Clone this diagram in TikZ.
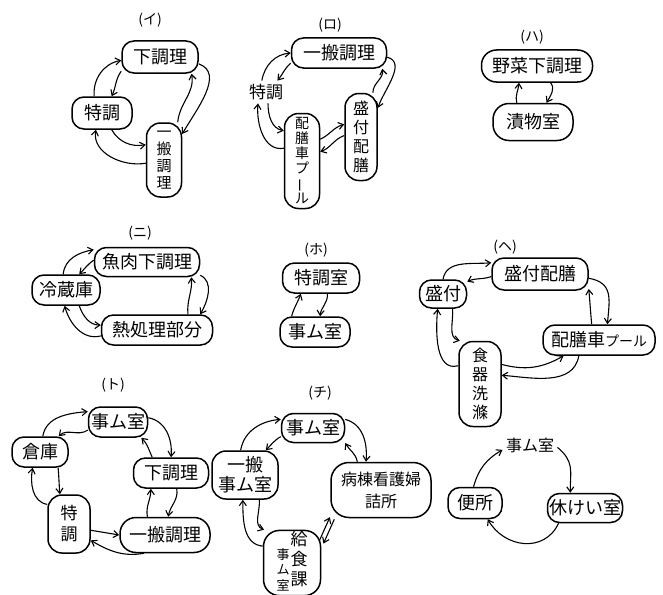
\documentclass[tikz,border=0pt]{standalone}
\usepackage{fontspec}
\setmainfont{Noto Sans CJK JP}
\usepackage{graphicx}
\usetikzlibrary{arrows.meta}
\newcommand{\tatebo}{\rotatebox[origin=c]{90}{ー}}

\begin{document}
\begin{tikzpicture}[x=1pt,y=1pt,
  room/.style={draw,line width=1.5pt,rounded corners=12pt,inner sep=1pt,
    align=center,font=\fontsize{18}{20}\selectfont},
  tate/.style={room,rounded corners=14pt},
  plain/.style={font=\fontsize{17}{19}\selectfont},
  tag/.style={font=\fontsize{14}{16}\selectfont},
  flow/.style={-{Straight Barb[length=5pt,width=7pt]},line width=1.1pt}]
  \useasboundingbox (0,0) rectangle (663,-594);

  \node[tag] (i-tag) at (150,-20) {(イ)};
  \node[room,minimum width=76pt,minimum height=32pt] (i-shita) at (160,-57) {下調理};
  \node[room,minimum width=60pt,minimum height=32pt] (i-toku) at (102,-113) {特調};
  \node[tate,minimum width=35pt,minimum height=74pt,font=\fontsize{15}{17}\selectfont] (i-ippan) at (164,-160) {一\\搬\\調\\理};
  \draw[flow] (i-toku.115) to[out=95,in=190] (i-shita.185);
  \draw[flow] (i-shita.200) to[out=235,in=65] (i-toku.60);
  \draw[flow] (i-shita.-10) to[out=-20,in=60] (i-ippan.55);
  \draw[flow] (i-ippan.70) to[out=85,in=-80] (i-shita.-28);
  \draw[flow] (i-toku.-60) to[out=-60,in=190] (i-ippan.140);
  \draw[flow] (i-ippan.190) to[out=190,in=-100] (i-toku.-110);

  \node[tag] (ro-tag) at (330,-25) {(ロ)};
  \node[room,minimum width=95pt,minimum height=30pt] (ro-ippan) at (339,-53) {一搬調理};
  \node[plain] (ro-toku) at (266,-92) {特調};
  \node[tate,minimum width=35pt,minimum height=95pt,font=\fontsize{14}{15}\selectfont] (ro-haizen) at (302,-161) {配\\膳\\車\\プ\\\tatebo\\ル};
  \node[tate,minimum width=32pt,minimum height=87pt,font=\fontsize{16}{19}\selectfont] (ro-mori) at (361,-137) {盛\\付\\配\\膳};
  \draw[flow] (ro-toku.110) to[out=80,in=185] (ro-ippan.west);
  \draw[flow] (ro-ippan.192) to[out=220,in=50] (ro-toku.45);
  \draw[flow] (ro-ippan.-5) to[out=-15,in=70] (ro-mori.60);
  \draw[flow] (ro-mori.75) to[out=90,in=-80] (ro-ippan.-20);
  \draw[flow] (ro-toku.-80) to[out=-90,in=170] (ro-haizen.121);
  \draw[flow] (ro-haizen.145) to[out=190,in=-95] (ro-toku.-125);
  \draw[flow] (ro-haizen.50) to[out=25,in=195] (ro-mori.143);
  \draw[flow] (ro-mori.175) to[out=200,in=20] (ro-haizen.27);

  \node[tag] (ha-tag) at (532,-37) {(ハ)};
  \node[room,minimum width=111pt,minimum height=32pt,rounded corners=15pt] (ha-yasai) at (537,-66) {野菜下調理};
  \node[room,minimum width=80pt,minimum height=37pt,rounded corners=16pt] (ha-tsuke) at (533,-122) {漬物室};
  \draw[flow] (ha-tsuke.130) to[out=105,in=-95] (ha-yasai.-137);
  \draw[flow] (ha-yasai.-51) to[out=-50,in=60] (ha-tsuke.55);

  \node[tag] (ni-tag) at (140,-233) {(ニ)};
  \node[room,minimum width=105pt,minimum height=29pt] (ni-gyo) at (147,-262) {魚肉下調理};
  \node[room,minimum width=68pt,minimum height=30pt] (ni-reizo) at (66,-290) {冷蔵庫};
  \node[room,minimum width=111pt,minimum height=30pt] (ni-netsu) at (157,-330) {熱処理部分};
  \draw[flow] (ni-reizo.100) to[out=85,in=190] (ni-gyo.167);
  \draw[flow] (ni-gyo.178) to[out=215,in=45] (ni-reizo.50);
  \draw[flow] (ni-gyo.-14) to[out=-25,in=60] (ni-netsu.20);
  \draw[flow] (ni-netsu.27) to[out=95,in=-85] (ni-gyo.-19);
  \draw[flow] (ni-reizo.-50) to[out=-70,in=180] (ni-netsu.175);
  \draw[flow] (ni-netsu.186) to[out=195,in=-75] (ni-reizo.-95);

  \node[tag] (ho-tag) at (316,-250) {(ホ)};
  \node[room,minimum width=77pt,minimum height=30pt] (ho-toku) at (321,-278) {特調室};
  \node[room,minimum width=70pt,minimum height=30pt] (ho-jimu) at (315,-332) {事ム室};
  \draw[flow] (ho-jimu.146) to[out=75,in=-110] (ho-toku.218);
  \draw[flow] (ho-toku.-68) to[out=-85,in=85] (ho-jimu.72);

  \node[tag] (he-tag) at (505,-247) {(ヘ)};
  \node[room,minimum width=96pt,minimum height=32pt] (he-moha) at (540,-274) {盛付配膳};
  \node[room,minimum width=47pt,minimum height=28pt] (he-mori) at (443,-294) {盛付};
  \node[room,minimum width=112pt,minimum height=30pt] (he-haizen) at (599,-340) {配膳車{\fontsize{14}{16}\selectfont プール}};
  \node[tate,minimum width=42pt,minimum height=85pt,font=\fontsize{16}{19}\selectfont] (he-shokki) at (480,-384) {食\\器\\洗\\滌};
  \draw[flow] (he-mori.90) to[out=80,in=185] (he-moha.167);
  \draw[flow] (he-moha.183) to[out=200,in=25] (he-mori.27);
  \draw[flow] (he-moha.-5) to[out=-10,in=85,looseness=1.3] (he-haizen.62);
  \draw[flow] (he-haizen.115) to[out=95,in=-85] (he-moha.-17);
  \draw[flow] (he-mori.-57) to[out=-85,in=165] (he-shokki.115);
  \draw[flow] (he-shokki.140) to[out=195,in=-95] (he-mori.-110);
  \draw[flow] (he-shokki.42) to[out=-15,in=-150] (he-haizen.-156);
  \draw[flow] (he-haizen.-142) to[out=-100,in=-5] (he-shokki.22);

  \node[tag] (to-tag) at (113,-385) {(ト)};
  \node[room,minimum width=59pt,minimum height=30pt] (to-jimu) at (118,-422) {事ム室};
  \node[room,minimum width=56pt,minimum height=30pt] (to-soko) at (40,-452) {倉庫};
  \node[room,minimum width=75pt,minimum height=30pt] (to-shita) at (171,-473) {下調理};
  \node[tate,minimum width=42pt,minimum height=58pt,font=\fontsize{17}{21}\selectfont] (to-toku) at (69,-524) {特\\調};
  \node[room,minimum width=90pt,minimum height=35pt,rounded corners=16pt] (to-ippan) at (165,-535) {一搬調理};
  \draw[flow] (to-soko.80) to[out=80,in=185] (to-jimu.161);
  \draw[flow] (to-jimu.195) to[out=215,in=45] (to-soko.40);
  \draw[flow] (to-jimu.8) to[out=-10,in=85] (to-shita.90);
  \draw[flow] (to-shita.140) to[out=115,in=-45] (to-jimu.-34);
  \draw[flow] (to-shita.-70) to[out=-80,in=80] (to-ippan.80);
  \draw[flow] (to-ippan.134) to[out=100,in=-90] (to-shita.-142);
  \draw[flow] (to-toku.-16) -- (to-ippan.180);
  \draw[flow] (to-ippan.-139) to[out=190,in=-30] (to-toku.-37);
  \draw[flow] (to-soko.-41) to[out=-85,in=95] (to-toku.107);
  \draw[flow] (to-toku.138) to[out=170,in=-100] (to-soko.-115);

  \node[tag] (chi-tag) at (320,-393) {(チ)};
  \node[room,minimum width=63pt,minimum height=29pt] (chi-jimu) at (313,-428) {事ム室};
  \node[room,minimum width=66pt,minimum height=48pt,rounded corners=14pt] (chi-ippan) at (245,-475) {一搬\\事ム室};
  \node[room,minimum width=100pt,minimum height=55pt,rounded corners=18pt,font=\fontsize{16}{22}\selectfont] (chi-byoto) at (381,-490) {病棟看護婦\\詰所};
  \node[room,minimum width=57pt,minimum height=62pt,rounded corners=16pt,font=\fontsize{17}{19}\selectfont] (chi-kyu) at (292,-563)
    {\raisebox{-5pt}{\fontsize{13}{15}\selectfont\begin{tabular}[b]{@{}c@{}}事\\ム\\室\end{tabular}}\hspace{1pt}\begin{tabular}[b]{@{}c@{}}給\\食\\課\end{tabular}};
  \draw[flow] (chi-ippan.100) to[out=80,in=185] (chi-jimu.165);
  \draw[flow] (chi-jimu.195) to[out=210,in=45] (chi-ippan.50);
  \draw[flow] (chi-jimu.15) to[out=-15,in=85] (chi-byoto.118);
  \draw[flow] (chi-byoto.130) to[out=100,in=-60] (chi-jimu.-25);
  \draw[flow] (chi-ippan.-60) to[out=-85,in=160] (chi-kyu.130);
  \draw[flow] (chi-kyu.150) to[out=175,in=-90] (chi-ippan.-95);
  \draw[flow] ([shift={(-2.2,1.1)}]chi-kyu.35) -- ([shift={(-2.2,1.1)}]chi-byoto.-150);
  \draw[flow] ([shift={(2.2,-1.1)}]chi-byoto.-150) -- ([shift={(2.2,-1.1)}]chi-kyu.35);

  \node[font=\fontsize{16}{18}\selectfont] (sono-jimu) at (530,-445) {事ム室};
  \node[room,minimum width=54pt,minimum height=31pt] (sono-benjo) at (475,-503) {便所};
  \node[room,minimum width=75pt,minimum height=29pt] (sono-kyukei) at (585,-508) {休けい室};
  \draw[flow] (sono-benjo.95) to[out=75,in=210] (sono-jimu.190);
  \draw[flow] (sono-jimu.-5) to[out=-40,in=90,looseness=1.2] (sono-kyukei.134);
  \draw[flow] (sono-kyukei.-150) to[out=-115,in=-60,looseness=1.2] (sono-benjo.-52);
\end{tikzpicture}
\end{document}
